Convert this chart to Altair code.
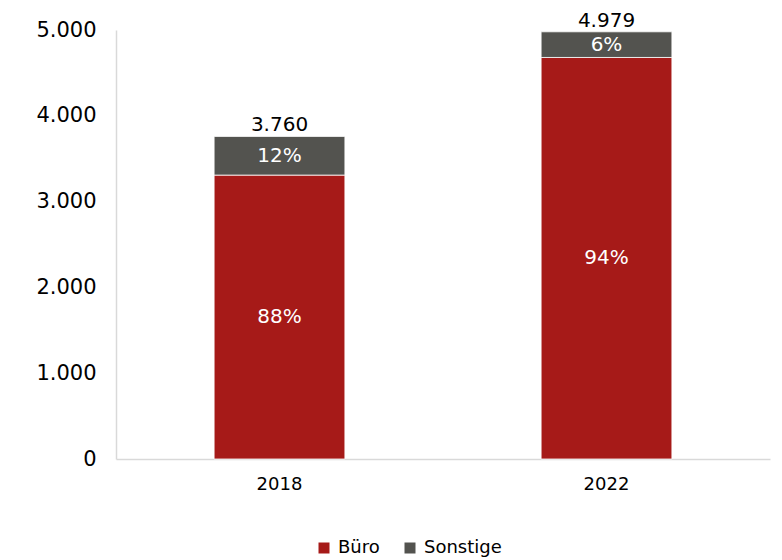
import altair as alt
import pandas as pd

years = ["2018", "2022"]
categories = ["Büro", "Sonstige"]
buero = [3309, 4680]
sonstige = [451, 299]
buero_share = ["88%", "94%"]
sonstige_share = ["12%", "6%"]
totals = [3760, 4979]
total_labels = ["3.760", "4.979"]
y_ticks = [0, 1000, 2000, 3000, 4000, 5000]
colors = ["#A61A18", "#53534F"]

rows = []
for i, yr in enumerate(years):
    rows.append({"year": yr, "cat": categories[0], "order": 0, "value": buero[i], "share": buero_share[i]})
    rows.append({"year": yr, "cat": categories[1], "order": 1, "value": sonstige[i], "share": sonstige_share[i]})
seg = pd.DataFrame(rows)
tot = pd.DataFrame({"year": years, "total": totals, "label": total_labels})

FONT = "DejaVu Sans"

xaxis = alt.Axis(title=None, labelAngle=0, ticks=False, domainColor="#d9d9d9",
                 domainWidth=1.5, labelFontSize=18, labelPadding=16, labelColor="#000000",
                 labelFont=FONT)
xscale = alt.Scale(paddingInner=0.6, paddingOuter=0.3)
yaxis = alt.Axis(title=None, values=y_ticks, grid=False, ticks=False,
                 domainColor="#d9d9d9", domainWidth=1.5,
                 labelExpr="replace(format(datum.value, ',d'), ',', '.')",
                 labelFontSize=21, labelPadding=20, labelColor="#000000", labelFont=FONT)
yscale = alt.Scale(domain=[0, 5000], nice=False)

bars = alt.Chart(seg).mark_bar(stroke="white", strokeWidth=0.8).encode(
    x=alt.X("year:N", scale=xscale, axis=xaxis),
    y=alt.Y("value:Q", stack="zero", scale=yscale, axis=yaxis),
    color=alt.Color(
        "cat:N",
        scale=alt.Scale(domain=categories, range=colors),
        legend=alt.Legend(title=None, orient="none", legendX=199, legendY=509,
                          direction="horizontal", symbolType="square", symbolSize=121,
                          symbolStrokeWidth=0, labelFontSize=18, labelFont=FONT,
                          labelColor="#000000", columnPadding=21, labelOffset=5),
    ),
    order=alt.Order("order:Q", sort="ascending"),
)

shares = alt.Chart(seg).transform_stack(
    stack="value", groupby=["year"], as_=["v0", "v1"], sort=[alt.SortField("order", order="ascending")]
).transform_calculate(
    mid="(datum.v0 + datum.v1) / 2"
).mark_text(color="white", fontSize=20, font=FONT, baseline="middle").encode(
    x=alt.X("year:N", scale=xscale, axis=xaxis),
    y=alt.Y("mid:Q", scale=yscale, axis=yaxis),
    text="share:N",
)

total_text = alt.Chart(tot).mark_text(color="#000000", fontSize=20, font=FONT, baseline="alphabetic", dy=-5).encode(
    x=alt.X("year:N", scale=xscale, axis=xaxis),
    y=alt.Y("total:Q", scale=yscale, axis=yaxis),
    text="label:N",
)

chart = alt.layer(bars, shares, total_text).properties(
    width=654, height=429,
    autosize=alt.AutoSizeParams(type="none"),
    padding={"left": 108, "top": 22, "right": 4, "bottom": 100},
    background="white",
).configure_view(stroke=None)

chart.save("out.html", embed_options={"renderer": "svg", "actions": False})
